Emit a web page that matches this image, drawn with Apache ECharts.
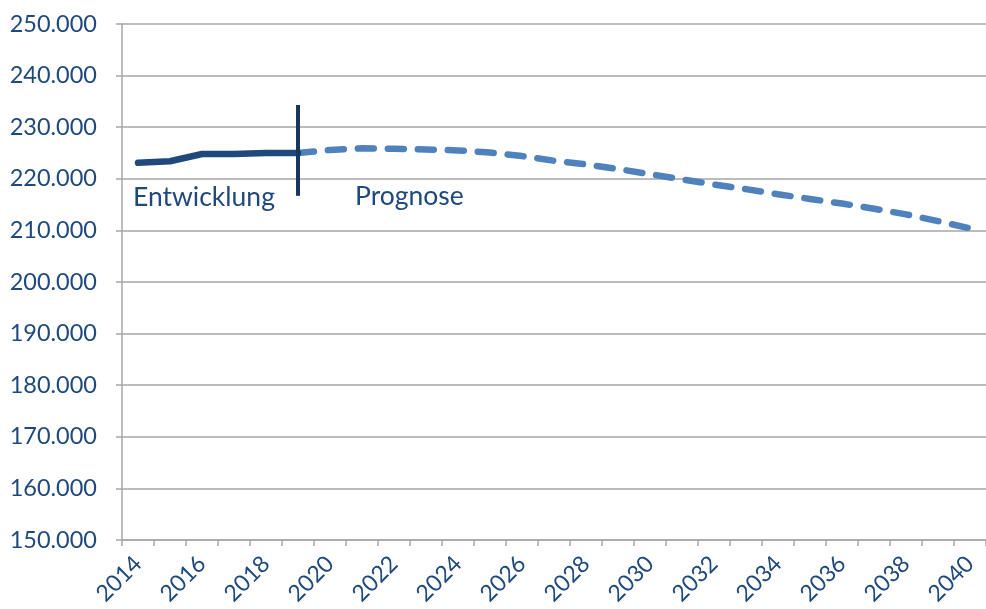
<!DOCTYPE html>
<html>
<head>
<meta charset="utf-8">
<script src="https://cdn.jsdelivr.net/npm/echarts@6/dist/echarts.min.js"></script>
<style>
html,body{margin:0;padding:0;background:#fff;}
#chart{width:986px;height:609px;}
</style>
</head>
<body>
<div id="chart"></div>
<script>
const years = ['2014','2015','2016','2017','2018','2019','2020','2021','2022','2023','2024','2025','2026','2027','2028','2029','2030','2031','2032','2033','2034','2035','2036','2037','2038','2039','2040'];
const entwicklung = [223100, 223400, 224800, 224800, 225000, 225000];
const prognose = [225000, 225600, 225900, 225800, 225700, 225500, 225100, 224400, 223500, 222800, 221900, 220900, 219900, 218900, 218000, 217000, 216100, 215200, 214200, 213100, 211800, 210400];
const yMin = 150000, yMax = 250000, yStep = 10000;
const markerTop = 234300, markerBottom = 216700;
const labelEntwicklung = 'Entwicklung';
const labelPrognose = 'Prognose';

const histData = years.map((y, i) => i < entwicklung.length ? entwicklung[i] : null);
const progStart = entwicklung.length - 1;
const progData = years.map((y, i) => i >= progStart ? prognose[i - progStart] : null);

function fmt(v){
  return String(Math.round(v)).replace(/\B(?=(\d{3})+(?!\d))/g, '.');
}

const textColor = '#1F497D';
const font = 'Lato, "Open Sans", sans-serif';

const chart = echarts.init(document.getElementById('chart'), null, {renderer:'canvas'});
chart.setOption({
  animation: false,
  grid: {left: 122, top: 24, bottom: 69, width: 875, containLabel: false},
  xAxis: {
    type: 'category',
    data: years,
    boundaryGap: true,
    axisLine: {lineStyle: {color: '#A6A6A6', width: 1.5}},
    axisTick: {show: true, alignWithLabel: false, interval: 0, length: 6, lineStyle: {color: '#A6A6A6', width: 1.5}},
    axisLabel: {interval: 1, rotate: 45, color: textColor, fontFamily: font, fontSize: 23, margin: 20},
    splitLine: {show: false}
  },
  yAxis: {
    type: 'value',
    min: yMin, max: yMax, interval: yStep,
    axisLine: {show: true, lineStyle: {color: '#A6A6A6', width: 1.5}},
    axisTick: {show: true, length: 6, lineStyle: {color: '#A6A6A6', width: 1.5}},
    axisLabel: {color: textColor, fontFamily: font, fontSize: 23.5, margin: 25, formatter: fmt},
    splitLine: {show: true, lineStyle: {color: '#A6A6A6', width: 1.5}}
  },
  series: [
    {
      name: 'Prognose',
      type: 'line',
      data: progData,
      symbol: 'none',
      lineStyle: {color: '#4F81BD', width: 6.5, type: [16, 14], cap: 'round'},
      z: 2
    },
    {
      name: 'Entwicklung',
      type: 'line',
      data: histData,
      symbol: 'none',
      lineStyle: {color: '#1F497D', width: 6.5, cap: 'round', join: 'round'},
      z: 3,
      markLine: {
        silent: true,
        symbol: ['none', 'none'],
        label: {show: false},
        lineStyle: {color: '#17375E', width: 4, type: 'solid'},
        data: [[{coord: [progStart + 0.2, markerTop]}, {coord: [progStart + 0.2, markerBottom]}]]
      }
    }
  ],
  graphic: [
    {type: 'text', left: 133, top: 184, style: {text: labelEntwicklung, fill: textColor, font: '26.5px ' + font}},
    {type: 'text', left: 355, top: 183, style: {text: labelPrognose, fill: textColor, font: '26.5px ' + font}}
  ]
});
</script>
</body>
</html>
